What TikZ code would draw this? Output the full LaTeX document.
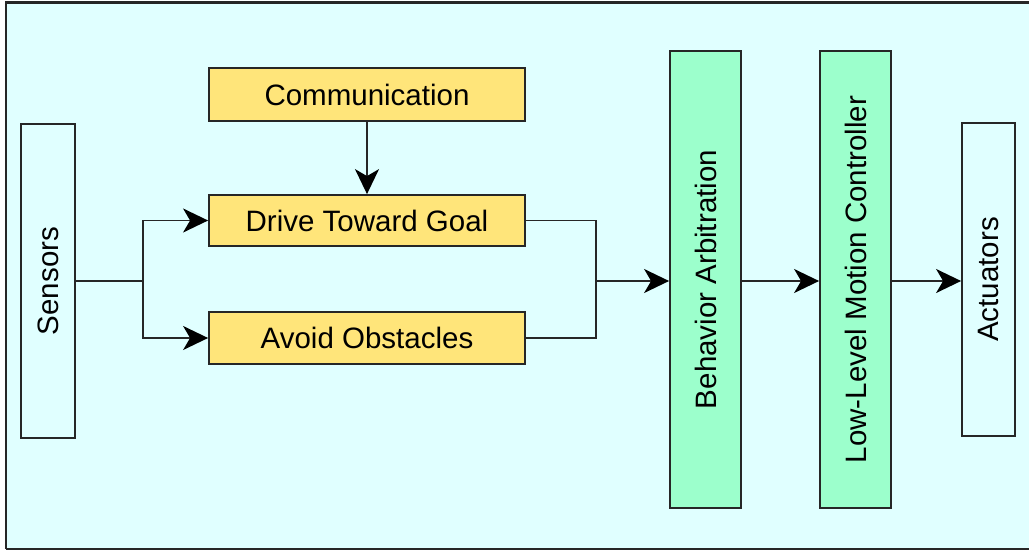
\documentclass[tikz,border=0pt]{standalone}
\usepackage{fontspec}
\setmainfont{Liberation Sans}
\usetikzlibrary{arrows.meta}
\definecolor{bgcyan}{HTML}{E0FFFF}
\definecolor{boxyellow}{HTML}{FFE57A}
\definecolor{boxgreen}{HTML}{9CFFCC}
\definecolor{edge}{HTML}{262626}
\tikzset{
  block/.style={draw=edge, line width=1.8pt, inner sep=0pt, text=black,
    font=\fontsize{29.5}{32}\selectfont},
  behave/.style={block, fill=boxyellow, minimum width=316pt},
  stage/.style={block, fill=boxgreen, minimum width=71pt, minimum height=457pt},
  io/.style={block, fill=bgcyan},
  wire/.style={draw=edge, line width=1.8pt},
  flow/.style={wire, -{Stealth[length=25pt, width=24pt, inset=7pt, color=black]}},
}
\begin{document}
\begin{tikzpicture}[x=1pt, y=-1pt]
  \useasboundingbox (0,0) rectangle (1029,551);
  \clip (0,0) rectangle (1029,551);
  % outer panel
  \fill[bgcyan] (6,2.5) rectangle (1040,548.5);
  \draw[edge, line width=2pt] (6,548.5) -- (6,2.5);
  \draw[edge, line width=3pt] (5,2.5) -- (1040,2.5);
  \draw[edge, line width=2pt] (6,548.5) -- (1040,548.5);

  % input and output
  \node[io, minimum width=54pt, minimum height=314pt] (sens) at (48,281)
    {\rotatebox{90}{Sensors}};
  \node[io, minimum width=53pt, minimum height=313pt] (act) at (988.5,279.5)
    {\rotatebox{90}{Actuators}};

  % behaviours
  \node[behave, minimum height=53pt] (comm) at (367,94.5) {Communication};
  \node[behave, minimum height=51pt] (drive) at (367,220.5) {Drive Toward Goal};
  \node[behave, minimum height=52pt] (avoid) at (367,338) {Avoid Obstacles};

  % arbitration and control stages
  \node[stage] (arb) at (705.5,279.5) {\rotatebox{90}{Behavior Arbitration}};
  \node[stage] (ctrl) at (855.5,279.5) {\rotatebox{90}{Low-Level Motion Controller}};

  % branch points
  \coordinate (split) at (143,281);
  \coordinate (join) at (596,281);

  % connections
  \draw[wire] (sens.east |- split) -- (split);
  \draw[flow] (split) |- (drive.west);
  \draw[flow] (split) |- (avoid.west);
  \draw[flow] (comm.south) -- (drive.north);
  \draw[wire] (drive.east) -| (join);
  \draw[wire] (avoid.east) -| (join);
  \draw[flow] (join) -- (arb.west |- join);
  \draw[flow] (arb.east |- join) -- (ctrl.west |- join);
  \draw[flow] (ctrl.east |- join) -- (act.west |- join);
\end{tikzpicture}
\end{document}
